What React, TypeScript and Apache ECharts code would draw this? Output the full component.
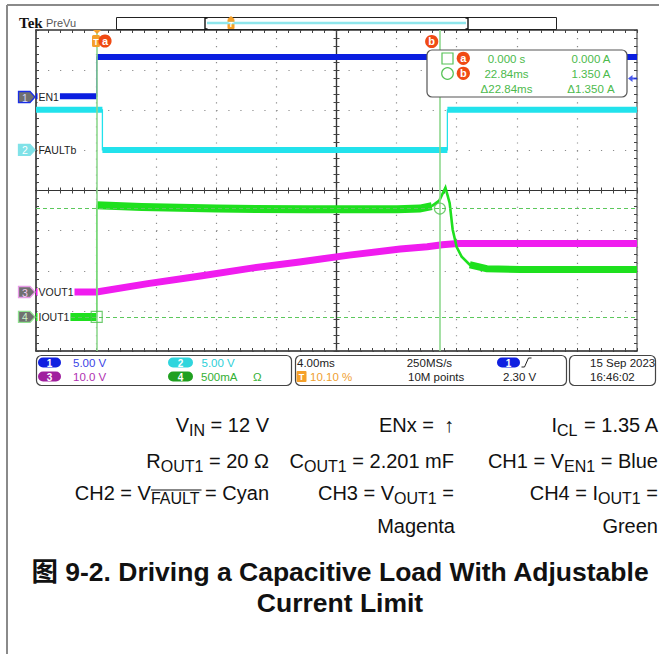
import React, { useEffect, useRef } from "react";
import * as echarts from "echarts";

// ---- Scope settings ----
const timeRangeMs = [-4.04, 35.96]; // 10 div x 4.00 ms, trigger at 10.10 %
const unitsPerDiv = [5, 5, 10, 0.5]; // CH1 V, CH2 V, CH3 V, CH4 A
const cursorTimesMs = [0, 22.84];
const cursorCurrentA = [0, 1.35];
const triggerLevelV = 2.3;

// ---- Channel traces (time in ms) ----
const en1Time = [-4.04, 0, 0, 35.96];
const en1Volt = [0.1, 0.1, 5.0, 5.0];

const faultTime = [-4.04, 0.38, 0.38, 23.34, 23.34, 35.96];
const faultVolt = [5.0, 5.0, 0, 0, 5.0, 5.0];

const voutTime = [-4.04, 0, 3.4, 6.9, 10.2, 13.5, 16.8, 20.2, 22.0, 23.0, 24.0, 35.96];
const voutVolt = [0, 0, 2.1, 4.0, 5.9, 7.5, 9.2, 10.7, 11.3, 11.8, 12.1, 12.1];

const ioutTime = [-4.04, 0, 0, 3, 8, 14, 20, 21.5, 22.3];
const ioutAmp = [0, 0, 1.39, 1.37, 1.35, 1.34, 1.34, 1.35, 1.38];
const spikeTime = [22.3, 22.8, 23.21, 23.49, 23.69, 23.96, 24.29, 24.83, 25.96];
const spikeAmp = [1.38, 1.45, 1.61, 1.42, 1.09, 0.87, 0.75, 0.65, 0.6];
const settleTime = [24.83, 25.96, 28.2, 35.96];
const settleAmp = [0.65, 0.6, 0.59, 0.59];

// ---- Layout (pixels / divisions) ----
const G = { left: 36, top: 30, width: 601, height: 321 };
const DIV_H = G.height / 8;
const groundDiv = [6.33, 5.01, 1.47, 0.85];
const chColors = ["#0a1ee0", "#22e2ec", "#f01cef", "#1ee01e"];
const chNames = ["EN1", "FAULTb", "VOUT1", "IOUT1"];

const FONT = '"Liberation Sans", Arial, sans-serif';

const zip = (a: number[], b: number[]) => a.map((v, i) => [v, b[i]]);
// same points, but broken at every vertical edge (so edges can be drawn thin)
const broken = (a: number[], b: number[]) => {
  const out: any[] = [];
  a.forEach((t, i) => {
    if (i > 0 && t === a[i - 1]) out.push([t, "-"]);
    out.push([t, b[i]]);
  });
  return out;
};

function measure(text: string, font: string) {
  const c = document.createElement("canvas").getContext("2d")!;
  c.font = font;
  return c.measureText(text).width;
}

const T = (x: number, y: number, text: string, o: any = {}) => ({
  type: "text",
  x,
  y,
  z: 100,
  style: {
    text,
    fontFamily: FONT,
    fontSize: 11.5,
    fill: "#222",
    align: o.align || "left",
    textAlign: o.align || "left",
    verticalAlign: "middle",
    textVerticalAlign: "middle",
    ...o,
  },
});

const R = (x: number, y: number, w: number, h: number, r: number, style: any) => ({
  type: "rect",
  z: 99,
  shape: { x, y, width: w, height: h, r },
  style,
});

const pill = (cx: number, cy: number, w: number, label: string, fill: string) => [
  R(cx - w / 2, cy - 5, w, 10, 5, { fill }),
  T(cx, cy + 0.5, label, { align: "center", fill: "#fff", fontSize: 10, fontWeight: "bold" }),
];

const redBadge = (cx: number, cy: number, label: string) => [
  { type: "circle", z: 101, shape: { cx, cy, r: 6.6 }, style: { fill: "#f04a14" } },
  { ...T(cx, cy - 0.5, label, { align: "center", fill: "#fff", fontSize: 11, fontWeight: "bold" }), z: 102 },
];

export default function App() {
  const ref = useRef<HTMLDivElement>(null);

  useEffect(() => {
    const chart = echarts.init(ref.current!, null, { renderer: "svg" });

    const tickStyle = { color: "#444", width: 1 };
    const gridAxis = (o: any) => ({
      type: "value",
      gridIndex: 0,
      interval: 1,
      axisLabel: { show: false },
      splitLine: { show: false },
      axisTick: { show: true, inside: true, length: 3, lineStyle: tickStyle },
      minorTick: { show: true, splitNumber: 5, length: 3, lineStyle: tickStyle },
      ...o,
    });

    const xAxis = [
      gridAxis({
        min: -5, max: 5, position: "bottom",
        axisLine: { show: true, onZero: false, lineStyle: { color: "#222", width: 1.5 } },
        splitLine: { show: true, lineStyle: { color: "#8c8c8c", width: 1.2, type: [1.2, 6.83] } },
      }),
      gridAxis({ min: -5, max: 5, position: "top", axisLine: { show: true, onZero: false, lineStyle: { color: "#333", width: 1.5 } } }),
      gridAxis({ min: -5, max: 5, position: "bottom", axisLine: { show: true, onZero: true, onZeroAxisIndex: 0, lineStyle: { color: "#333", width: 1.2 } } }),
      gridAxis({ min: -5, max: 5, position: "bottom", axisTick: { show: true, inside: false, length: 3, lineStyle: tickStyle }, axisLine: { show: true, onZero: true, onZeroAxisIndex: 0, lineStyle: { color: "#333", width: 1.2 } } }),
      { type: "value", gridIndex: 0, min: timeRangeMs[0], max: timeRangeMs[1], show: false, axisLine: { onZero: false } },
    ];

    const chAxes = unitsPerDiv.map((u, i) => ({
      type: "value", gridIndex: 0, show: false,
      min: -groundDiv[i] * u, max: (8 - groundDiv[i]) * u,
      axisLine: { onZero: false },
    }));

    const yAxis = [
      gridAxis({
        min: -4, max: 4, position: "left",
        axisLine: { show: true, onZero: false, lineStyle: { color: "#222", width: 1.5 } },
        splitLine: { show: true, lineStyle: { color: "#8c8c8c", width: 1.2, type: [1.2, 10.82] } },
      }),
      gridAxis({ min: -4, max: 4, position: "right", axisLine: { show: true, onZero: false, lineStyle: { color: "#777", width: 1.5 } } }),
      gridAxis({ min: -4, max: 4, position: "left", axisLine: { show: true, onZero: true, onZeroAxisIndex: 0, lineStyle: { color: "#333", width: 1.2 } } }),
      gridAxis({ min: -4, max: 4, position: "left", axisTick: { show: true, inside: false, length: 3, lineStyle: tickStyle }, axisLine: { show: true, onZero: true, onZeroAxisIndex: 0, lineStyle: { color: "#333", width: 1.2 } } }),
      ...chAxes,
    ];

    const trace = (name: string, data: any[], ch: number, width: number, z = 3) => ({
      name, type: "line", xAxisIndex: 4, yAxisIndex: 4 + ch, data, symbol: "none", z,
      connectNulls: false,
      lineStyle: { color: chColors[ch], width, cap: "butt", join: "miter" },
      silent: true, animation: false,
    });

    const series: any[] = [
      {
        type: "line", xAxisIndex: 4, yAxisIndex: 7, data: [], z: 1, silent: true,
        markLine: {
          silent: true, symbol: ["none", "none"], label: { show: false },
          data: [
            ...cursorTimesMs.map((t) => ({ xAxis: t, lineStyle: { color: "#8ed88e", width: 1.6, type: "solid" } })),
            ...cursorCurrentA.map((a) => ({ yAxis: a, lineStyle: { color: "#5cc85c", width: 1.2, type: [4, 3] } })),
          ],
        },
      },
      trace("FAULTb edges", zip(faultTime, faultVolt), 1, 1.3),
      trace("FAULTb", broken(faultTime, faultVolt), 1, 6),
      trace("EN1 edges", zip(en1Time, en1Volt), 0, 1.3),
      trace("EN1", broken(en1Time, en1Volt), 0, 6),
      trace("VOUT1", zip(voutTime, voutVolt), 2, 7),
      trace("IOUT1 edges", zip(ioutTime, ioutAmp), 3, 1.3),
      trace("IOUT1", broken(ioutTime, ioutAmp), 3, 8),
      trace("IOUT1 settle", zip(settleTime, settleAmp), 3, 7),
      trace("IOUT1 spike", zip(spikeTime, spikeAmp), 3, 2.6, 4),
      {
        type: "scatter", xAxisIndex: 4, yAxisIndex: 7, z: 6, silent: true,
        data: cursorTimesMs.map((t, i) => ({ value: [t, cursorCurrentA[i]], symbol: i === 0 ? "rect" : "circle" })),
        symbolSize: 11,
        itemStyle: { color: "rgba(0,0,0,0)", borderColor: "#4cbf4c", borderWidth: 1.2 },
      },
      {
        type: "scatter", xAxisIndex: 4, yAxisIndex: 4, z: 6, silent: true,
        data: [[timeRangeMs[1], triggerLevelV]],
        symbol: "path://M0,5 L6,0 L6,3.5 L12,3.5 L12,6.5 L6,6.5 L6,10 Z",
        symbolSize: [9, 7], symbolOffset: [-4.5, 0],
        itemStyle: { color: "#1a2ee6" },
      },
    ];

    // ---- graphic decorations ----
    const els: any[] = [];
    // outer frame
    els.push({ type: "line", z: 90, shape: { x1: 7, y1: 5, x2: 659, y2: 5 }, style: { stroke: "#8a8a8a", lineWidth: 2 } });
    els.push({ type: "line", z: 90, shape: { x1: 7, y1: 5, x2: 7, y2: 654 }, style: { stroke: "#8a8a8a", lineWidth: 2 } });
    // top bar
    els.push(T(19, 23, "Tek", { fontFamily: '"Liberation Serif", serif', fontWeight: "bold", fontSize: 15, fill: "#111" }));
    els.push(T(46, 23, "PreVu", { fontSize: 11, fill: "#555" }));
    els.push(R(116.5, 17.5, 440, 12, 0, { fill: "#fff", stroke: "#222", lineWidth: 1 }));
    els.push({ type: "line", z: 100, shape: { x1: 207, y1: 23, x2: 466, y2: 23 }, style: { stroke: "#8fe6ec", lineWidth: 2.6 } });
    els.push({ type: "polyline", z: 100, shape: { points: [[207.5, 18], [205, 18], [205, 29], [207.5, 29]] }, style: { stroke: "#111", lineWidth: 1.4, fill: null } });
    els.push({ type: "polyline", z: 100, shape: { points: [[465.5, 18], [468, 18], [468, 29], [465.5, 29]] }, style: { stroke: "#111", lineWidth: 1.4, fill: null } });
    els.push({ type: "polygon", z: 101, shape: { points: [[227.5, 19], [234.5, 19], [231, 16]] }, style: { fill: "#f5a02a" } });
    els.push(R(227.5, 19, 7, 10, 1, { fill: "#f5a02a" }));
    els.push({ ...T(231, 24.5, "T", { align: "center", fill: "#fff", fontSize: 8, fontWeight: "bold" }), z: 102 });

    // trigger T marker and cursor badges
    els.push({ type: "polygon", z: 101, shape: { points: [[93, 30], [101, 30], [97, 34]] }, style: { fill: "#f5a02a" } });
    els.push(R(92, 35, 8, 12, 1.5, { fill: "#f5a02a" }));
    els.push({ ...T(96, 41.5, "T", { align: "center", fill: "#fff", fontSize: 9, fontWeight: "bold" }), z: 102 });
    els.push(...redBadge(105, 41, "a"));
    els.push(...redBadge(431.7, 41.5, "b"));

    // cursor readout box
    els.push(R(427, 50, 200, 47, 5, { fill: "#fff", stroke: "#555", lineWidth: 1.2 }));
    els.push({ type: "rect", z: 101, shape: { x: 442, y: 53, width: 11, height: 11 }, style: { fill: null, stroke: "#55c255", lineWidth: 1.2 } });
    els.push({ type: "circle", z: 101, shape: { cx: 447.5, cy: 73.5, r: 5.8 }, style: { fill: null, stroke: "#55c255", lineWidth: 1.2 } });
    els.push(...redBadge(463.3, 58.3, "a"));
    els.push(...redBadge(463.3, 73.3, "b"));
    const rd = "#4cba4c";
    const dt = cursorTimesMs[1] - cursorTimesMs[0];
    const di = cursorCurrentA[1] - cursorCurrentA[0];
    els.push(T(506.5, 58.5, `${cursorTimesMs[0].toFixed(3)} s`, { align: "center", fill: rd }));
    els.push(T(591, 58.5, `${cursorCurrentA[0].toFixed(3)} A`, { align: "center", fill: rd }));
    els.push(T(506.5, 73.5, `${cursorTimesMs[1].toFixed(2)}ms`, { align: "center", fill: rd }));
    els.push(T(591, 73.5, `${cursorCurrentA[1].toFixed(3)} A`, { align: "center", fill: rd }));
    els.push(T(506.5, 89, `\u0394${dt.toFixed(2)}ms`, { align: "center", fill: rd }));
    els.push(T(591, 89, `\u0394${di.toFixed(3)} A`, { align: "center", fill: rd }));

    // channel ground markers + labels
    const markerFill = ["#707070", "#80e2e8", "#707070", "#707070"];
    const markerStroke = ["#1a2ee6", "#80e2e8", "#e79ae7", "#8fe08f"];
    const markerText = ["#cfd4ff", "#ffffff", "#f3c8f3", "#c9f5c9"];
    groundDiv.forEach((g, i) => {
      const y = G.top + (8 - g) * DIV_H;
      els.push({
        type: "polygon", z: 101,
        shape: { points: [[18.5, y - 5.5], [30, y - 5.5], [35, y], [30, y + 5.5], [18.5, y + 5.5]] },
        style: { fill: markerFill[i], stroke: markerStroke[i], lineWidth: 1.3 },
      });
      els.push({ ...T(25, y + 0.5, String(i + 1), { align: "center", fill: markerText[i], fontSize: 10.5 }), z: 102 });
      els.push(T(37.5, y, chNames[i], { fontSize: 10.5, fill: "#222", backgroundColor: "#fff", padding: [1, 1, 1, 1] }));
    });

    // status bar
    els.push(R(36.5, 355.5, 255, 30, 5, { fill: "#fff", stroke: "#444", lineWidth: 1.2 }));
    els.push(R(295.5, 355.5, 271, 30, 5, { fill: "#fff", stroke: "#444", lineWidth: 1.2 }));
    els.push(R(569.5, 355.5, 86, 30, 5, { fill: "#fff", stroke: "#444", lineWidth: 1.2 }));
    els.push(...pill(49.5, 362.5, 23, "1", "#1020e0"));
    els.push(...pill(49.5, 376.5, 23, "3", "#a0209e"));
    els.push(...pill(180.5, 362.5, 25, "2", "#30d5dd"));
    els.push(...pill(180.5, 376.5, 25, "4", "#20a020"));
    els.push(T(73, 362.5, `${unitsPerDiv[0].toFixed(2)} V`, { fill: "#3b45e6" }));
    els.push(T(73, 376.5, `${unitsPerDiv[2].toFixed(1)} V`, { fill: "#b030b0" }));
    els.push(T(201.5, 362.5, `${unitsPerDiv[1].toFixed(2)} V`, { fill: "#2ccfd8" }));
    els.push(T(201, 376.5, `${unitsPerDiv[3] * 1000}mA`, { fill: "#34b034" }));
    els.push(T(253, 376.5, "\u03a9", { fill: "#34b034" }));
    els.push(T(297, 362.5, "4.00ms"));
    els.push(R(296.5, 371, 10, 11, 1, { fill: "#f5a02a" }));
    els.push({ ...T(301.5, 377, "T", { align: "center", fill: "#fff", fontSize: 9, fontWeight: "bold" }), z: 102 });
    els.push(T(310, 376.5, "10.10 %", { fill: "#f0a030" }));
    els.push(T(406.7, 362.5, "250MS/s"));
    els.push(T(408, 376.5, "10M points"));
    els.push(...pill(508.5, 362.5, 23, "1", "#1020e0"));
    els.push({ type: "polyline", z: 101, shape: { points: [[521.5, 367], [524.5, 367], [528.5, 358], [531.5, 358]] }, style: { stroke: "#222", lineWidth: 1, fill: null } });
    els.push(T(503, 376.5, `${triggerLevelV.toFixed(2)} V`));
    els.push(T(590, 362.5, "15 Sep 2023"));
    els.push(T(590, 376.5, "16:46:02"));

    // caption text below the screen
    const rowY = [425, 461, 493, 526];
    const NB = "\u00a0";
    const cells: { right: number; row: number; parts: [string, string][] }[] = [
      { right: 269, row: 0, parts: [["V", "m"], ["IN", "s"], [`${NB}= 12 V`, "m"]] },
      { right: 269, row: 1, parts: [["R", "m"], ["OUT1", "s"], [`${NB}= 20 \u03a9`, "m"]] },
      { right: 269, row: 2, parts: [["CH2 = V", "m"], ["FAULT", "s"], [`${NB}= Cyan`, "m"]] },
      { right: 454, row: 0, parts: [["ENx =", "m"], ["\u2191", "a"]] },
      { right: 454, row: 1, parts: [["C", "m"], ["OUT1", "s"], [`${NB}= 2.201 mF`, "m"]] },
      { right: 454, row: 2, parts: [["CH3 = V", "m"], ["OUT1", "s"], [`${NB}=`, "m"]] },
      { right: 455, row: 3, parts: [["Magenta", "m"]] },
      { right: 658, row: 0, parts: [["I", "m"], ["CL", "s"], [`${NB}= 1.35 A`, "m"]] },
      { right: 658, row: 1, parts: [["CH1 = V", "m"], ["EN1", "s"], [`${NB}= Blue`, "m"]] },
      { right: 658, row: 2, parts: [["CH4 = I", "m"], ["OUT1", "s"], [`${NB}=`, "m"]] },
      { right: 658, row: 3, parts: [["Green", "m"]] },
    ];
    const rich = {
      m: { fontSize: 20, lineHeight: 26, fontFamily: FONT, fill: "#111" },
      a: { fontSize: 20, lineHeight: 26, fontFamily: FONT, fill: "#111", padding: [0, 0, 0, 10] },
      s: { fontSize: 16, lineHeight: 15, fontFamily: FONT, fill: "#111", verticalAlign: "bottom" },
    };
    cells.forEach((c) => {
      els.push({
        type: "text", z: 100, x: c.right, y: rowY[c.row],
        style: {
          text: c.parts.map(([t, s]) => `{${s}|${t}}`).join(""),
          rich, align: "right", textAlign: "right", verticalAlign: "middle", textVerticalAlign: "middle",
          fontFamily: FONT, fontSize: 20, fill: "#111",
        },
      });
    });
    // overline over FAULT (active-low)
    const wTail = measure(`${NB}= Cyan`, `20px ${FONT}`);
    const wFault = measure("FAULT", `16px ${FONT}`);
    const ox2 = 269 - wTail;
    els.push({ type: "line", z: 101, shape: { x1: ox2 - wFault, y1: 490, x2: ox2 + 2, y2: 490 }, style: { stroke: "#111", lineWidth: 1.2 } });

    // figure title
    const TF = '"Liberation Sans", "Noto Sans CJK SC", Arial, sans-serif';
    els.push(T(340, 572, "\u56fe 9-2. Driving a Capacitive Load With Adjustable", { align: "center", fontFamily: TF, fontSize: 26.5, fontWeight: "bold", fill: "#111" }));
    els.push(T(340, 603, "Current Limit", { align: "center", fontFamily: TF, fontSize: 26.5, fontWeight: "bold", fill: "#111" }));

    chart.setOption({
      animation: false,
      backgroundColor: "#fff",
      grid: { ...G, containLabel: false },
      xAxis,
      yAxis,
      series,
      graphic: { elements: els },
    });

    return () => chart.dispose();
  }, []);

  return <div ref={ref} style={{ position: "fixed", left: 0, top: 0, width: 659, height: 654, background: "#fff" }} />;
}
